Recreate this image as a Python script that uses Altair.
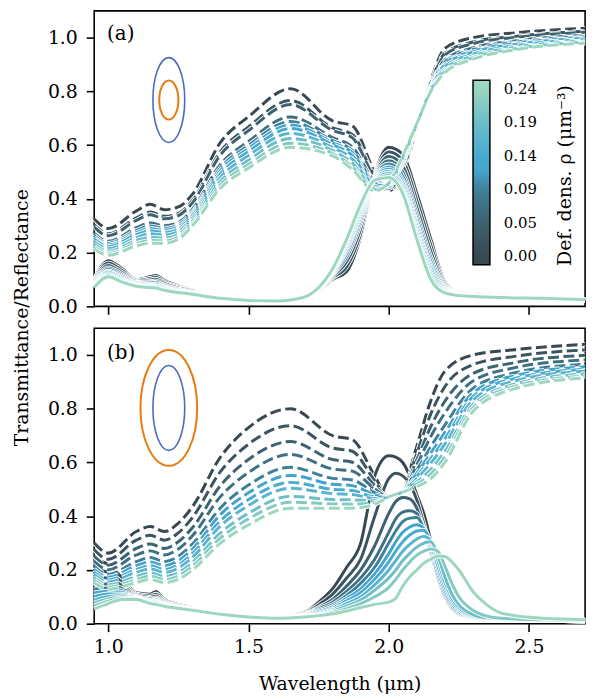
import altair as alt
import pandas as pd

# ---------------- data ----------------
RHO = [0.0, 0.0236, 0.0472, 0.0708, 0.0944, 0.118, 0.1416, 0.1652, 0.1888, 0.2124, 0.236]
COLORS = ["#384951", "#3b5560", "#3d6270", "#3e7083", "#3f8099", "#42a3cd",
          "#4aabd0", "#5ab4cd", "#6cbec8", "#84cac3", "#9dd7bf"]
RHO_TICKS = [0.0, 0.0472, 0.0944, 0.1416, 0.1888, 0.236]
X_TICKS = [1.0, 1.5, 2.0, 2.5]
Y_TICKS = [0.0, 0.2, 0.4, 0.6, 0.8, 1.0]

WL_T = [0.95, 1.0, 1.1, 1.15, 1.2, 1.25, 1.3, 1.4, 1.5, 1.65, 1.8, 1.87, 1.95, 2.0,
        2.05, 2.1, 2.15, 2.2, 2.3, 2.45, 2.7]

TRANS_A = [
    [.325, .29, .355, .38, .36, .37, .417, .61, .706, .81, .69, .672, .50, .43, .50, .66, .84, .96, 1.0, 1.018, 1.035],
    [.303, .27, .329, .351, .335, .346, .394, .576, .668, .766, .664, .640, .486, .436, .512, .664, .832, .942, .984, 1.005, 1.024],
    [.295, .263, .320, .341, .326, .338, .385, .564, .654, .751, .655, .628, .481, .438, .516, .665, .829, .936, .978, 1.001, 1.02],
    [.272, .242, .293, .310, .30, .312, .361, .528, .614, .705, .628, .594, .466, .444, .529, .67, .821, .917, .962, .988, 1.009],
    [.263, .234, .282, .299, .29, .303, .351, .515, .599, .688, .617, .581, .461, .447, .534, .671, .818, .91, .955, .983, 1.004],
    [.256, .228, .274, .290, .283, .296, .344, .505, .588, .675, .609, .572, .457, .449, .537, .672, .815, .904, .95, .979, 1.001],
    [.250, .222, .267, .281, .275, .288, .337, .494, .576, .662, .602, .562, .452, .45, .541, .674, .813, .899, .946, .975, .998],
    [.241, .214, .256, .270, .265, .279, .328, .481, .561, .644, .591, .549, .447, .453, .546, .675, .81, .892, .939, .97, .993],
    [.231, .205, .245, .257, .254, .268, .318, .466, .544, .625, .58, .534, .44, .456, .551, .677, .806, .884, .932, .964, .988],
    [.222, .197, .234, .245, .244, .258, .308, .452, .528, .607, .569, .521, .435, .458, .556, .679, .803, .876, .926, .959, .984],
    [.214, .19, .225, .235, .235, .25, .30, .44, .515, .592, .56, .51, .43, .46, .56, .68, .80, .87, .92, .955, .98],
]

TRANS_B = [
    [.30, .263, .343, .362, .343, .374, .435, .62, .73, .80, .70, .685, .55, .47, .50, .66, .83, .94, 1.0, 1.02, 1.04],
    [.275, .240, .311, .329, .311, .338, .395, .566, .668, .737, .654, .642, .532, .47, .498, .634, .781, .882, .964, .995, 1.019],
    [.251, .218, .280, .297, .280, .305, .357, .514, .611, .678, .611, .601, .515, .471, .497, .61, .734, .828, .931, .972, .999],
    [.232, .201, .256, .271, .256, .278, .327, .473, .563, .63, .576, .568, .502, .471, .495, .591, .697, .784, .903, .953, .982],
    [.213, .183, .231, .246, .231, .251, .296, .431, .516, .582, .541, .535, .488, .471, .494, .571, .659, .739, .876, .934, .966],
    [.202, .173, .216, .23, .216, .234, .278, .406, .487, .552, .519, .514, .48, .471, .493, .56, .636, .712, .859, .923, .956],
    [.191, .163, .202, .216, .202, .219, .261, .383, .462, .526, .50, .496, .472, .471, .493, .549, .615, .688, .845, .913, .947],
    [.182, .155, .191, .204, .191, .207, .247, .364, .44, .504, .484, .481, .466, .472, .492, .54, .598, .668, .832, .904, .94],
    [.171, .144, .176, .189, .176, .19, .228, .338, .411, .474, .462, .461, .458, .472, .491, .528, .575, .641, .815, .892, .93],
    [.162, .136, .164, .177, .164, .178, .214, .319, .39, .452, .446, .445, .451, .472, .491, .519, .557, .62, .803, .884, .922],
    [.153, .128, .153, .165, .153, .165, .20, .30, .368, .43, .43, .43, .445, .472, .49, .51, .54, .60, .79, .875, .915],
]

WL_RA = [0.95, 1.0, 1.05, 1.1, 1.15, 1.17, 1.2, 1.3, 1.4, 1.5, 1.6, 1.7, 1.75, 1.8, 1.85,
         1.9, 1.95, 2.0, 2.05, 2.1, 2.15, 2.2, 2.25, 2.3, 2.4, 2.55, 2.7]

REFL_A = [
    [.10, .17, .14, .10, .11, .115, .097, .06, .032, .024, .025, .04, .06, .10, .13, .26, .49, .592, .565, .42, .25, .09, .05, .047, .043, .035, .023],
    [.096, .161, .133, .096, .104, .108, .091, .058, .032, .024, .024, .039, .062, .106, .148, .27, .487, .575, .543, .395, .228, .084, .049, .046, .042, .034, .023],
    [.091, .152, .125, .093, .098, .101, .086, .056, .031, .023, .024, .039, .063, .112, .166, .289, .484, .558, .522, .369, .205, .078, .047, .044, .04, .034, .024],
    [.087, .143, .118, .089, .092, .094, .08, .053, .031, .023, .023, .038, .065, .118, .184, .309, .481, .542, .50, .344, .183, .072, .046, .043, .039, .033, .024],
    [.084, .137, .113, .086, .088, .089, .077, .052, .031, .023, .022, .037, .066, .122, .196, .322, .479, .530, .485, .327, .168, .068, .045, .042, .038, .032, .024],
    [.081, .131, .108, .084, .084, .084, .073, .05, .031, .023, .022, .037, .067, .126, .208, .335, .477, .519, .471, .31, .153, .064, .044, .041, .037, .032, .024],
    [.078, .127, .104, .082, .081, .081, .07, .049, .031, .023, .021, .036, .067, .129, .216, .344, .476, .511, .461, .298, .142, .061, .043, .04, .036, .031, .024],
    [.076, .122, .10, .08, .078, .077, .067, .048, .030, .022, .021, .036, .068, .132, .226, .354, .474, .502, .449, .284, .13, .058, .042, .039, .035, .031, .025],
    [.074, .118, .097, .078, .075, .074, .065, .047, .030, .022, .021, .036, .069, .135, .234, .363, .473, .495, .439, .272, .12, .055, .041, .038, .034, .031, .025],
    [.072, .114, .093, .077, .072, .071, .062, .046, .030, .022, .020, .035, .069, .138, .243, .372, .471, .487, .429, .26, .109, .052, .041, .038, .034, .030, .025],
    [.07, .11, .09, .075, .07, .068, .06, .045, .03, .022, .02, .035, .07, .14, .25, .38, .47, .48, .42, .25, .10, .05, .04, .037, .033, .03, .025],
]

WL_RB = [0.95, 1.0, 1.05, 1.1, 1.15, 1.17, 1.2, 1.3, 1.4, 1.5, 1.6, 1.7,
         1.75, 1.8, 1.85, 1.9, 1.95, 2.0, 2.025, 2.05, 2.075, 2.1, 2.125, 2.15, 2.175,
         2.2, 2.225, 2.25, 2.3, 2.35, 2.4, 2.55, 2.7]

REFL_B = [
    [.24, .22, .17, .115, .11, .12, .09, .06, .036, .024, .025, .042,
     .08, .13, .21, .30, .55, .625, .62, .60, .55, .48, .41, .31, .22, .13, .07, .04, .02, .018, .016, .013, .01],
    [.203, .191, .154, .11, .103, .11, .085, .058, .036, .024, .024, .039,
     .07, .11, .17, .24, .40, .54, .56, .55, .52, .46, .37, .27, .17, .10, .055, .035, .02, .017, .015, .013, .01],
    [.175, .169, .142, .106, .098, .103, .081, .057, .036, .024, .023, .036,
     .06, .09, .14, .20, .29, .41, .455, .47, .465, .43, .35, .26, .17, .10, .058, .036, .02, .017, .015, .013, .01],
    [.148, .148, .13, .103, .093, .096, .078, .055, .036, .025, .023, .034,
     .055, .08, .12, .17, .24, .34, .39, .415, .42, .41, .35, .265, .175, .105, .062, .038, .021, .017, .015, .013, .01],
    [.129, .133, .122, .10, .089, .091, .075, .054, .035, .025, .022, .032,
     .05, .07, .105, .15, .21, .30, .345, .38, .393, .395, .355, .275, .185, .115, .068, .042, .022, .018, .016, .013, .011],
    [.114, .121, .116, .098, .086, .087, .073, .053, .035, .025, .022, .030,
     .045, .063, .094, .13, .185, .26, .305, .34, .36, .368, .355, .29, .20, .125, .075, .047, .024, .018, .016, .013, .011],
    [.101, .111, .11, .096, .084, .084, .071, .053, .035, .025, .021, .029,
     .04, .057, .085, .115, .165, .23, .27, .305, .33, .345, .348, .30, .215, .14, .085, .053, .026, .019, .016, .013, .011],
    [.088, .101, .104, .095, .081, .081, .07, .052, .035, .025, .021, .028,
     .037, .052, .075, .10, .145, .20, .235, .27, .295, .315, .325, .31, .235, .155, .095, .06, .029, .02, .017, .014, .011],
    [.077, .092, .10, .093, .079, .078, .068, .051, .035, .025, .021, .027,
     .034, .047, .065, .088, .125, .17, .20, .235, .262, .285, .30, .305, .255, .175, .11, .07, .034, .022, .018, .014, .012],
    [.066, .084, .095, .092, .077, .075, .067, .051, .035, .025, .02, .026,
     .032, .042, .056, .075, .10, .135, .165, .20, .23, .255, .27, .278, .27, .215, .15, .10, .05, .028, .02, .015, .012],
    [.055, .075, .09, .09, .075, .072, .065, .05, .035, .025, .02, .025,
     .03, .037, .047, .06, .072, .08, .095, .14, .175, .20, .225, .24, .252, .25, .23, .20, .12, .07, .04, .02, .015],
]

ELLIPSE_A = {"wl": [1.216], "v": [0.768]}
ELLIPSE_B = {"wl": [1.216], "v": [0.803]}
LABEL_POS = {"a": 1.015, "b": 1.008}
PANEL_LABELS = {"a": "(a)", "b": "(b)"}
CBAR_TITLE = "Def. dens. ρ (μm⁻³)"

# ---------------- styling ----------------
FONT = "DejaVu Serif"
W, H = 495, 298
XS = alt.Scale(domain=[0.95, 2.7], nice=False, zero=False)
YS = alt.Scale(domain=[0.0, 1.1], nice=False, zero=False)
CDOM = [-0.0118] + RHO + [0.2478]
CRANGE = [COLORS[0]] + COLORS + [COLORS[-1]]
CSCALE = alt.Scale(domain=CDOM, range=CRANGE)
DASH = [11, 4.5]
BLUE = "#4a6cba"
ORANGE = "#e57c12"


def ellipse_path(a):
    k = 0.5523
    return (f"M 0 -1 C {k*a:.4f} -1 {a} {-k} {a} 0 C {a} {k} {k*a:.4f} 1 0 1 "
            f"C {-k*a:.4f} 1 {-a} {k} {-a} 0 C {-a} {-k} {-k*a:.4f} -1 0 -1 Z")


def make_panel(trans, wl_t, refl, wl_r, ell, which):
    if which == "a":
        xaxis = alt.Axis(values=X_TICKS, labels=False, title=None)
        yaxis = alt.Axis(values=Y_TICKS, format=".1f", title="Transmittance/Reflectance",
                         titleX=-73, titleY=309, titleAngle=270, titleAlign="center",
                         titleBaseline="middle")
        legend = alt.Legend(orient="none", legendX=382, legendY=70, direction="vertical",
                            gradientLength=186, gradientThickness=17, values=RHO_TICKS,
                            format=".2f", title=None, labelFont=FONT, labelFontSize=15,
                            labelColor="black", labelOffset=14, gradientStrokeColor="black",
                            gradientStrokeWidth=1.5, padding=0)
    else:
        xaxis = alt.Axis(values=X_TICKS, format=".1f", title="Wavelength (μm)")
        yaxis = alt.Axis(values=Y_TICKS, format=".1f", title=None)
        legend = None

    x = alt.X("wl:Q", scale=XS, axis=xaxis)
    y = alt.Y("v:Q", scale=YS, axis=yaxis)
    col = alt.Color("rho:Q", scale=CSCALE, legend=legend)

    layers = []
    for i in range(len(RHO)):
        for wl, vals, dashed in ((wl_t, trans[i], True), (wl_r, refl[i], False)):
            df = pd.DataFrame({"wl": wl, "v": vals, "rho": RHO[i]})
            base = alt.Chart(df)
            wkw = dict(interpolate="monotone", strokeWidth=4.8, color="white")
            ckw = dict(interpolate="monotone", strokeWidth=3.0)
            if dashed:
                wkw["strokeDash"] = DASH
                ckw["strokeDash"] = DASH
            layers.append(base.mark_line(**wkw).encode(x=x, y=y))
            layers.append(base.mark_line(**ckw).encode(x=x, y=y, color=col))

    edf = pd.DataFrame(ell)
    if which == "a":
        outer = alt.Chart(edf).mark_point(shape=ellipse_path(0.375), filled=False,
                                          strokeWidth=1.6, color=BLUE, opacity=1,
                                          size=7310).encode(x=x, y=y)
        inner = alt.Chart(edf).mark_point(shape=ellipse_path(0.49), filled=False,
                                          strokeWidth=2.0, color=ORANGE, opacity=1,
                                          size=1552).encode(x=x, y=y)
    else:
        outer = alt.Chart(edf).mark_point(shape=ellipse_path(0.49), filled=False,
                                          strokeWidth=2.0, color=ORANGE, opacity=1,
                                          size=13619).encode(x=x, y=y)
        inner = alt.Chart(edf).mark_point(shape=ellipse_path(0.375), filled=False,
                                          strokeWidth=1.6, color=BLUE, opacity=1,
                                          size=7310).encode(x=x, y=y)
    layers += [outer, inner]

    ldf = pd.DataFrame({"wl": [0.996], "v": [LABEL_POS[which]], "t": [PANEL_LABELS[which]]})
    layers.append(alt.Chart(ldf).mark_text(align="left", baseline="middle", font=FONT,
                                           fontSize=20, color="black")
                  .encode(x=x, y=y, text="t:N"))
    if which == "a":
        tdf = pd.DataFrame({"wl": [2.629], "v": [0.487], "t": [CBAR_TITLE]})
        layers.append(alt.Chart(tdf).mark_text(align="center", baseline="middle", font=FONT,
                                               fontSize=19, angle=270, color="black")
                      .encode(x=x, y=y, text="t:N"))
    return alt.layer(*layers).properties(width=W, height=H)


panel_a = make_panel(TRANS_A, WL_T, REFL_A, WL_RA, ELLIPSE_A, "a")
panel_b = make_panel(TRANS_B, WL_T, REFL_B, WL_RB, ELLIPSE_B, "b")

chart = (
    alt.vconcat(panel_a, panel_b, spacing=22, bounds="flush")
    .resolve_scale(color="independent")
    .properties(padding={"left": 12, "top": 7, "right": 0, "bottom": 0})
    .configure_view(stroke="black", strokeWidth=1.6)
    .configure_axis(domain=False, grid=False, tickColor="black", tickWidth=1.6, tickSize=8,
                    labelFont=FONT, labelFontSize=19, labelColor="black",
                    titleFont=FONT, titleFontSize=19, titleFontWeight="normal",
                    titleColor="black")
    .configure_axisY(labelPadding=9)
    .configure_axisX(labelPadding=6, titlePadding=18)
)

chart.save("out.html", embed_options={"renderer": "svg", "actions": False})
